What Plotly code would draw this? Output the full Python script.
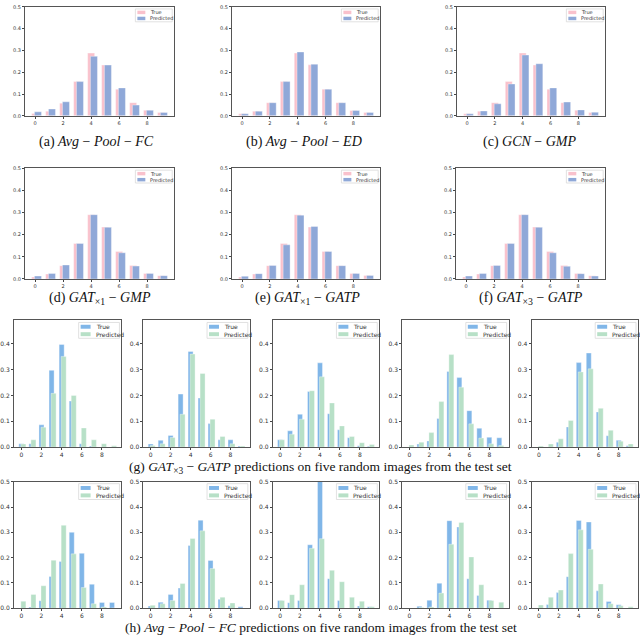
import plotly.graph_objects as go

bins = list(range(10))

# (a)-(f): mean class distribution over the test set
true_a = [0.010, 0.021, 0.058, 0.157, 0.288, 0.233, 0.122, 0.060, 0.025, 0.015]
pred_a = [0.018, 0.031, 0.064, 0.157, 0.273, 0.233, 0.128, 0.049, 0.025, 0.015]
true_b = [0.009, 0.021, 0.060, 0.157, 0.288, 0.234, 0.122, 0.060, 0.024, 0.015]
pred_b = [0.009, 0.021, 0.060, 0.157, 0.293, 0.237, 0.122, 0.060, 0.024, 0.015]
true_c = [0.009, 0.021, 0.060, 0.157, 0.288, 0.233, 0.122, 0.060, 0.025, 0.015]
pred_c = [0.009, 0.022, 0.055, 0.146, 0.279, 0.239, 0.128, 0.063, 0.027, 0.016]
true_d = [0.009, 0.022, 0.060, 0.160, 0.290, 0.234, 0.124, 0.061, 0.025, 0.015]
pred_d = [0.013, 0.025, 0.063, 0.160, 0.290, 0.233, 0.118, 0.058, 0.025, 0.015]
true_e = [0.009, 0.022, 0.060, 0.160, 0.290, 0.234, 0.124, 0.060, 0.025, 0.016]
pred_e = [0.012, 0.024, 0.061, 0.154, 0.288, 0.237, 0.124, 0.060, 0.025, 0.016]
true_f = [0.009, 0.022, 0.060, 0.160, 0.290, 0.234, 0.124, 0.061, 0.025, 0.015]
pred_f = [0.013, 0.025, 0.061, 0.160, 0.290, 0.233, 0.118, 0.057, 0.024, 0.013]

# (g): GAT x3 - GATP on five random test images
true_g1 = [0.013, 0.013, 0.086, 0.297, 0.397, 0.178, 0.013, 0.004, 0.0, 0.0]
pred_g1 = [0.012, 0.028, 0.077, 0.208, 0.351, 0.200, 0.074, 0.028, 0.013, 0.005]
true_g2 = [0.012, 0.026, 0.045, 0.205, 0.370, 0.190, 0.091, 0.028, 0.028, 0.004]
pred_g2 = [0.006, 0.013, 0.037, 0.127, 0.360, 0.285, 0.108, 0.041, 0.013, 0.004]
true_g3 = [0.028, 0.063, 0.127, 0.215, 0.326, 0.129, 0.067, 0.036, 0.005, 0.003]
pred_g3 = [0.028, 0.050, 0.108, 0.218, 0.272, 0.171, 0.082, 0.041, 0.017, 0.010]
true_g4 = [0.0, 0.012, 0.024, 0.111, 0.293, 0.269, 0.141, 0.073, 0.038, 0.036]
pred_g4 = [0.008, 0.019, 0.056, 0.176, 0.358, 0.232, 0.090, 0.035, 0.013, 0.006]
true_g5 = [0.0, 0.0, 0.019, 0.078, 0.327, 0.364, 0.136, 0.044, 0.026, 0.005]
pred_g5 = [0.004, 0.012, 0.032, 0.103, 0.291, 0.303, 0.150, 0.065, 0.023, 0.012]

# (h): Avg-Pool-FC on five random test images
true_h1 = [0.0, 0.005, 0.030, 0.126, 0.185, 0.300, 0.217, 0.095, 0.023, 0.023]
pred_h1 = [0.028, 0.055, 0.089, 0.190, 0.328, 0.215, 0.082, 0.018, 0.005, 0.001]
true_h2 = [0.009, 0.024, 0.055, 0.080, 0.248, 0.348, 0.189, 0.036, 0.010, 0.006]
pred_h2 = [0.012, 0.018, 0.031, 0.098, 0.276, 0.306, 0.157, 0.044, 0.021, 0.0]
true_h3 = [0.031, 0.022, 0.031, 0.251, 0.520, 0.117, 0.031, 0.0, 0.009, 0.006]
pred_h3 = [0.031, 0.054, 0.093, 0.237, 0.275, 0.150, 0.105, 0.044, 0.028, 0.006]
true_h4 = [0.0, 0.008, 0.032, 0.099, 0.346, 0.321, 0.117, 0.051, 0.032, 0.0]
pred_h4 = [0.0, 0.003, 0.005, 0.060, 0.253, 0.339, 0.203, 0.093, 0.031, 0.024]
true_h5 = [0.0, 0.015, 0.062, 0.125, 0.347, 0.341, 0.069, 0.027, 0.014, 0.0]
pred_h5 = [0.013, 0.044, 0.072, 0.216, 0.310, 0.233, 0.096, 0.018, 0.010, 0.006]

x_ticks = [0, 2, 4, 6, 8]
y_ticks = [0.0, 0.1, 0.2, 0.3, 0.4, 0.5]
y_labels = ["0.0", "0.1", "0.2", "0.3", "0.4", "0.5"]
legend_labels = ["True", "Predicted"]

captions = [
    "(a) <i>Avg</i> − <i>Pool</i> − <i>FC</i>",
    "(b) <i>Avg</i> − <i>Pool</i> − <i>ED</i>",
    "(c) <i>GCN</i> − <i>GMP</i>",
    "(d) <i>GAT</i><sub>×1</sub> − <i>GMP</i>",
    "(e) <i>GAT</i><sub>×1</sub> − <i>GATP</i>",
    "(f) <i>GAT</i><sub>×3</sub> − <i>GATP</i>",
    "(g) <i>GAT</i><sub>×3</sub> − <i>GATP</i> predictions on five random images from the test set",
    "(h) <i>Avg</i> − <i>Pool</i> − <i>FC</i> predictions on five random images from the test set",
]

W, H = 640, 639

PINK = "#f9c1cc"
STEEL = "#8fa8d8"
SKY = "#80b6e8"
MINT = "#b7e0c7"

# pixel boxes of the axes: (left, right, top, bottom)
big = [(22, 172, 3, 113), (230, 379, 3, 113), (456, 605, 3, 113),
       (22, 172, 166, 278), (230, 379, 166, 278), (455, 605, 166, 278)]
small_x = [(11, 119), (141, 248), (271, 378), (401, 508), (531, 638)]

panels = []
for box, t, p in zip(big, [true_a, true_b, true_c, true_d, true_e, true_f],
                     [pred_a, pred_b, pred_c, pred_d, pred_e, pred_f]):
    panels.append(dict(box=box, t=t, p=p, ymax=0.5, nt=6, ct=PINK, cp=STEEL, fs=5,
                       leg=(37, 13, 8, 3.5)))
for (l, r), t, p in zip(small_x, [true_g1, true_g2, true_g3, true_g4, true_g5],
                        [pred_g1, pred_g2, pred_g3, pred_g4, pred_g5]):
    panels.append(dict(box=(l, r, 320, 448), t=t, p=p, ymax=0.49, nt=5, ct=SKY, cp=MINT,
                       fs=6, leg=(41, 16, 10, 4)))
for (l, r), t, p in zip(small_x, [true_h1, true_h2, true_h3, true_h4, true_h5],
                        [pred_h1, pred_h2, pred_h3, pred_h4, pred_h5]):
    panels.append(dict(box=(l, r, 483, 611), t=t, p=p, ymax=0.5, nt=6, ct=SKY, cp=MINT,
                       fs=6, leg=(41, 16, 10, 4)))

fig = go.Figure()
layout = {}

for i, pn in enumerate(panels):
    n = i + 1
    sfx = "" if n == 1 else str(n)
    l, r, top, bot = pn["box"]
    edge = dict(width=0.5, color="rgba(255,255,255,0.7)")
    fig.add_trace(go.Bar(x=bins, y=pn["t"], width=0.5, offset=-0.25,
                         marker=dict(color=pn["ct"], line=edge),
                         xaxis="x" + sfx, yaxis="y" + sfx, showlegend=False))
    fig.add_trace(go.Bar(x=bins, y=pn["p"], width=0.5, offset=-0.05,
                         marker=dict(color=pn["cp"], line=edge),
                         xaxis="x" + sfx, yaxis="y" + sfx, showlegend=False))

    common = dict(showline=True, mirror=True, linecolor="#555", linewidth=0.8,
                  ticks="outside", ticklen=2, tickwidth=0.6, tickcolor="#444",
                  showgrid=False, zeroline=False,
                  tickfont=dict(family="DejaVu Sans", size=pn["fs"], color="#333"))
    layout["xaxis" + sfx] = dict(common, domain=[l / W, r / W], range=[-0.735, 9.935],
                                 tickvals=x_ticks, anchor="y" + sfx)
    layout["yaxis" + sfx] = dict(common, domain=[1 - bot / H, 1 - top / H],
                                 range=[0, pn["ymax"]], tickvals=y_ticks[:pn["nt"]],
                                 ticktext=y_labels[:pn["nt"]], anchor="x" + sfx)

    # small matplotlib-style legend in the upper right corner
    aw, ah = r - l, bot - top
    bw, bh, pw, ph = pn["leg"]
    xr, yr = "x" + sfx + " domain", "y" + sfx + " domain"
    bx1 = 1 - 2 / aw
    bx0 = bx1 - bw / aw
    by1 = 1 - 2 / ah
    by0 = by1 - bh / ah
    fig.add_shape(type="rect", xref=xr, yref=yr, x0=bx0, x1=bx1, y0=by0, y1=by1,
                  line=dict(color="#d9d9d9", width=0.8),
                  fillcolor="rgba(255,255,255,0.85)", layer="above")
    for k, (lab, col) in enumerate(zip(legend_labels, [pn["ct"], pn["cp"]])):
        yc = by1 - bh * (0.27 + 0.47 * k) / ah
        px0 = bx0 + 2 / aw
        fig.add_shape(type="rect", xref=xr, yref=yr, x0=px0, x1=px0 + pw / aw,
                      y0=yc - ph / 2 / ah, y1=yc + ph / 2 / ah,
                      line=dict(width=0), fillcolor=col, layer="above")
        fig.add_annotation(xref=xr, yref=yr, x=px0 + (pw + 3) / aw, y=yc, text=lab,
                           showarrow=False, xanchor="left", yanchor="middle",
                           font=dict(family="DejaVu Sans", size=pn["fs"], color="#333"))

cap_pos = [(94, 140), (302, 140), (529, 140), (97, 298), (306, 298), (530, 298),
           (319, 469), (319, 630)]
cap_size = [14, 14, 14, 14, 14, 14, 13.5, 13.5]
for txt, (cx, cy), fs in zip(captions, cap_pos, cap_size):
    fig.add_annotation(xref="paper", yref="paper", x=cx / W, y=1 - cy / H, text=txt,
                       showarrow=False, xanchor="center", yanchor="middle", borderpad=0,
                       font=dict(family="Liberation Serif", size=fs, color="#111"))

fig.update_layout(
    width=W, height=H,
    margin=dict(l=0, r=0, t=0, b=0),
    barmode="overlay",
    paper_bgcolor="white",
    plot_bgcolor="white",
    showlegend=False,
    **layout
)

# drop the default 8px body margin so the figure sits at the window origin
fig.write_html("out.html", config={"displayModeBar": False},
               post_script="document.body.style.margin = '0';")
